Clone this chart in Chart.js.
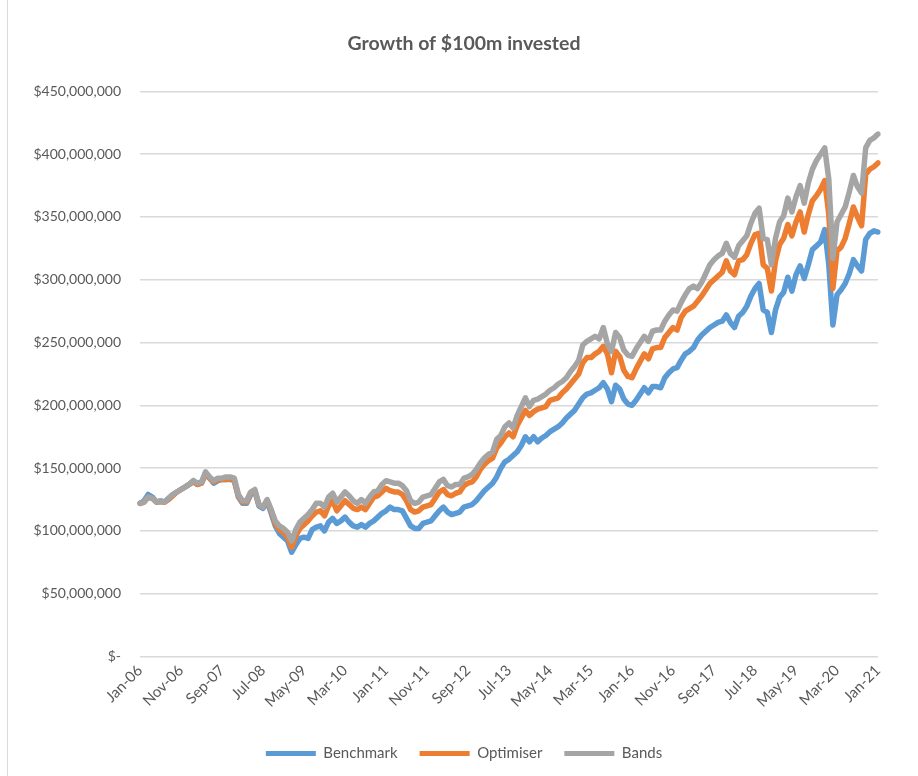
<!DOCTYPE html>
<html>
<head>
<meta charset="utf-8">
<title>Growth of $100m invested</title>
<script src="https://cdn.jsdelivr.net/npm/chart.js@4.4.1/dist/chart.umd.min.js"></script>
<style>
  html, body { margin: 0; padding: 0; background: #fff; }
  #wrap { position: relative; width: 918px; height: 776px; }
  #edge { position: absolute; left: 7px; top: 0; width: 1px; height: 776px; background: #d9d9d9; }
</style>
</head>
<body>
<div id="wrap">
  <canvas id="myChart" width="918" height="776"></canvas>
  <div id="edge"></div>
</div>
<script>
// month labels along the x-axis (only every 10th is shown)
var months = [
  "Jan-06","Feb-06","Mar-06","Apr-06","May-06","Jun-06","Jul-06","Aug-06","Sep-06","Oct-06","Nov-06","Dec-06",
  "Jan-07","Feb-07","Mar-07","Apr-07","May-07","Jun-07","Jul-07","Aug-07","Sep-07","Oct-07","Nov-07","Dec-07",
  "Jan-08","Feb-08","Mar-08","Apr-08","May-08","Jun-08","Jul-08","Aug-08","Sep-08","Oct-08","Nov-08","Dec-08",
  "Jan-09","Feb-09","Mar-09","Apr-09","May-09","Jun-09","Jul-09","Aug-09","Sep-09","Oct-09","Nov-09","Dec-09",
  "Jan-10","Feb-10","Mar-10","Apr-10","May-10","Jun-10","Jul-10","Aug-10","Sep-10","Oct-10","Nov-10","Dec-10",
  "Jan-11","Feb-11","Mar-11","Apr-11","May-11","Jun-11","Jul-11","Aug-11","Sep-11","Oct-11","Nov-11","Dec-11",
  "Jan-12","Feb-12","Mar-12","Apr-12","May-12","Jun-12","Jul-12","Aug-12","Sep-12","Oct-12","Nov-12","Dec-12",
  "Jan-13","Feb-13","Mar-13","Apr-13","May-13","Jun-13","Jul-13","Aug-13","Sep-13","Oct-13","Nov-13","Dec-13",
  "Jan-14","Feb-14","Mar-14","Apr-14","May-14","Jun-14","Jul-14","Aug-14","Sep-14","Oct-14","Nov-14","Dec-14",
  "Jan-15","Feb-15","Mar-15","Apr-15","May-15","Jun-15","Jul-15","Aug-15","Sep-15","Oct-15","Nov-15","Dec-15",
  "Jan-16","Feb-16","Mar-16","Apr-16","May-16","Jun-16","Jul-16","Aug-16","Sep-16","Oct-16","Nov-16","Dec-16",
  "Jan-17","Feb-17","Mar-17","Apr-17","May-17","Jun-17","Jul-17","Aug-17","Sep-17","Oct-17","Nov-17","Dec-17",
  "Jan-18","Feb-18","Mar-18","Apr-18","May-18","Jun-18","Jul-18","Aug-18","Sep-18","Oct-18","Nov-18","Dec-18",
  "Jan-19","Feb-19","Mar-19","Apr-19","May-19","Jun-19","Jul-19","Aug-19","Sep-19","Oct-19","Nov-19","Dec-19",
  "Jan-20","Feb-20","Mar-20","Apr-20","May-20","Jun-20","Jul-20","Aug-20","Sep-20","Oct-20","Nov-20","Dec-20",
  "Jan-21"
];

// portfolio values in $ millions
var benchmark = [
  122,124,129,127,123,124,123,126,129,131,133,135,
  137,140,137,138,146,142,138,140,141,141,141,140,
  127,122,122,129,132,120,118,124,114,104,98,95,
  92,83,89,94,95,94,101,103,104,100,107,110,
  106,108,111,107,104,103,105,103,106,108,111,114,
  116,119,117,117,116,110,104,102,102,106,107,108,
  112,116,119,115,113,114,115,119,120,121,124,128,
  132,135,138,143,150,155,157,160,163,168,175,171,
  175,171,174,176,179,181,183,186,190,193,196,201,
  206,209,210,212,214,218,213,203,216,213,205,201,
  200,204,209,214,210,215,215,214,222,226,229,230,
  236,241,243,246,252,256,259,262,264,266,267,272,
  266,262,271,274,279,287,293,297,276,274,258,276,
  286,290,302,291,304,311,301,312,324,327,330,340,
  312,264,288,292,297,305,316,311,307,332,337,339,
  338
];
var optimiser = [
  122,123,127,126,123,123,123,125,128,131,133,135,
  137,139,137,138,145,142,139,141,141,141,142,140,
  128,123,123,130,132,121,119,124,116,106,101,99,
  95,87,96,102,105,108,112,115,116,112,120,124,
  116,120,124,121,118,117,119,117,122,127,128,131,
  134,132,131,131,129,124,117,115,116,119,120,121,
  126,131,133,129,128,130,131,136,138,139,143,149,
  153,156,158,166,170,175,178,175,184,190,196,192,
  195,197,198,199,204,205,206,210,213,217,221,225,
  234,238,238,241,243,247,241,226,243,239,228,223,
  222,229,235,241,237,245,246,246,254,258,262,260,
  270,275,277,279,283,287,292,297,300,303,306,315,
  307,304,315,316,320,329,336,337,312,309,291,315,
  328,333,344,335,346,354,338,352,363,367,372,379,
  352,293,323,326,333,345,358,350,343,384,388,390,
  393
];
var bands = [
  122,123,127,126,123,124,123,126,129,131,133,135,
  137,140,138,139,147,143,140,142,142,143,143,142,
  129,124,124,131,133,121,119,125,117,108,104,102,
  99,92,101,107,110,113,117,122,122,119,127,130,
  123,127,131,128,124,122,125,122,127,131,132,137,
  140,139,138,138,136,132,124,122,123,127,128,129,
  134,139,141,136,135,137,137,142,143,145,149,154,
  158,161,163,173,176,183,186,182,192,199,206,199,
  204,205,207,209,212,214,217,219,222,227,231,236,
  248,251,253,255,253,262,249,243,258,254,244,240,
  239,245,250,255,251,259,260,260,267,272,276,275,
  282,288,293,295,293,298,305,312,316,319,321,329,
  321,318,327,331,335,345,353,357,333,332,312,333,
  346,351,365,354,366,375,361,377,388,395,400,405,
  380,317,346,352,358,370,383,374,369,405,411,413,
  416
];

var textColor = "#595959";
Chart.defaults.font.family = "Lato, 'Liberation Sans', sans-serif";
Chart.defaults.color = textColor;

function dollars(v) {
  if (v === 0) return "$-";
  return "$" + String(Math.round(v * 1000000)).replace(/\B(?=(\d{3})+(?!\d))/g, ",");
}

function series(label, values, color, order) {
  return {
    label: label,
    data: values,
    borderColor: color,
    backgroundColor: color,
    borderWidth: 5.5,
    pointRadius: 0,
    pointHoverRadius: 0,
    tension: 0,
    fill: false,
    borderCapStyle: "round",
    borderJoinStyle: "round",
    order: order
  };
}

var ctx = document.getElementById("myChart");
var myChart = new Chart(ctx, {
  type: "line",
  data: {
    labels: months,
    datasets: [
      series("Benchmark", benchmark, "#5B9BD5", 3),
      series("Optimiser", optimiser, "#ED7D31", 2),
      series("Bands", bands, "#A5A5A5", 1)
    ]
  },
  options: {
    responsive: false,
    animation: false,
    layout: { padding: { left: 10, right: 0, top: 0, bottom: 5 } },
    plugins: {
      title: {
        display: true,
        text: "Growth of $100m invested",
        color: textColor,
        font: { size: 19.5, weight: "bold" },
        padding: { top: 32, bottom: 36 }
      },
      legend: {
        position: "bottom",
        labels: {
          boxWidth: 50,
          boxHeight: 5,
          padding: 22,
          font: { size: 15 },
          color: textColor,
          generateLabels: function (chart) {
            var items = Chart.defaults.plugins.legend.labels.generateLabels(chart);
            items.forEach(function (it) {
              it.lineWidth = 0;
              it.fillStyle = it.strokeStyle;
            });
            return items.sort(function (a, b) { return a.datasetIndex - b.datasetIndex; });
          }
        }
      },
      tooltip: { enabled: false }
    },
    scales: {
      x: {
        grid: { display: false, drawTicks: false },
        border: { display: false },
        ticks: {
          autoSkip: false,
          minRotation: 45,
          maxRotation: 45,
          padding: 5,
          font: { size: 15 },
          callback: function (val, idx) {
            return idx % 10 === 0 ? months[idx] : null;
          }
        },
        afterFit: function (scale) { scale.height = 67.5; }
      },
      y: {
        min: 0,
        max: 450,
        grid: { color: "#D9D9D9", lineWidth: 1.5, drawTicks: false },
        border: { display: false },
        ticks: {
          stepSize: 50,
          padding: 19,
          font: { size: 14 },
          callback: function (v) { return dollars(v); }
        },
        afterFit: function (scale) { scale.width = 130; }
      },
      // empty spacer on the right so the plot ends where the original does
      spacer: {
        axis: "y",
        position: "right",
        grid: { display: false, drawTicks: false },
        border: { display: false },
        ticks: { display: false },
        afterFit: function (scale) { scale.width = 40; }
      }
    }
  }
});
</script>
</body>
</html>
